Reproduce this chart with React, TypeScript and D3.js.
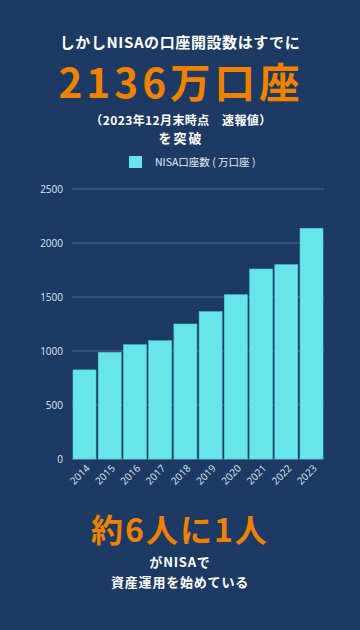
import React from "react";
import * as d3 from "d3";

const years = ["2014", "2015", "2016", "2017", "2018", "2019", "2020", "2021", "2022", "2023"];
const accounts = [825, 987, 1058, 1095, 1250, 1364, 1521, 1759, 1799, 2136];
const yTicks = [0, 500, 1000, 1500, 2000, 2500];

const W = 360;
const H = 630;
const BG = "#1c3a63";
const ORANGE = "#ef8200";
const BAR = "#68e5e8";
const FONT = "'Noto Sans CJK JP', 'Noto Sans', sans-serif";
const TICKFONT = "'Open Sans', 'Noto Sans', sans-serif";

export default function App() {
  const x = d3.scaleBand<string>().domain(years).range([72, 324]).paddingInner(0.09).paddingOuter(0.04);
  const y = d3.scaleLinear().domain([0, 2500]).range([459, 189]);

  return (
    <svg width={W} height={H} style={{ position: "absolute", left: 0, top: 0, display: "block" }}>
      <rect x={0} y={0} width={W} height={H} fill={BG} />
      <text x={180} y={48} textAnchor="middle" fill="#ffffff" fontFamily={FONT} fontWeight={700} fontSize={15} letterSpacing={0.6}>
        しかしNISAの口座開設数はすでに
      </text>
      <text x={181} y={98} textAnchor="middle" fill={ORANGE} fontFamily={FONT} fontWeight={700} fontSize={40.5} letterSpacing={4}>
        2136万口座
      </text>
      <text x={181} y={125} textAnchor="middle" fill="#ffffff" fontFamily={FONT} fontWeight={700} fontSize={12} letterSpacing={0.4}>
        （2023年12月末時点　速報値）
      </text>
      <text x={181} y={143} textAnchor="middle" fill="#ffffff" fontFamily={FONT} fontWeight={700} fontSize={13} letterSpacing={2}>
        を突破
      </text>
      <rect x={129} y={156} width={13} height={12} fill={BAR} />
      <text x={155} y={166} fill="#e6ecf4" fontFamily={FONT} fontSize={10.5}>
        NISA口座数 ( 万口座 )
      </text>

      {yTicks.map((t) => (
        <g key={t}>
          <line x1={72} x2={324} y1={y(t)} y2={y(t)} stroke="#4f6d92" strokeWidth={1} />
          <text x={63} y={y(t) + 3.5} textAnchor="end" fill="#dfe6ef" fontFamily={TICKFONT} fontSize={10}>
            {t}
          </text>
        </g>
      ))}

      {years.map((yr, i) => (
        <rect
          key={yr}
          x={x(yr)!}
          y={y(accounts[i])}
          width={x.bandwidth()}
          height={y(0) - y(accounts[i])}
          fill={BAR}
          stroke="#4fd3d8"
          strokeWidth={0.6}
        />
      ))}

      {years.map((yr) => {
        const cx = x(yr)! + x.bandwidth() / 2 + 6;
        const cy = 469;
        return (
          <text
            key={yr}
            x={cx}
            y={cy}
            textAnchor="end"
            fill="#dfe6ef"
            fontFamily={TICKFONT}
            fontSize={10}
            transform={`rotate(-45 ${cx} ${cy})`}
          >
            {yr}
          </text>
        );
      })}

      <text x={180} y={542} textAnchor="middle" fill={ORANGE} fontFamily={FONT} fontWeight={700} fontSize={32} letterSpacing={2}>
        約6人に1人
      </text>
      <text x={180} y={567} textAnchor="middle" fill="#ffffff" fontFamily={FONT} fontWeight={700} fontSize={13} letterSpacing={0.8}>
        がNISAで
      </text>
      <text x={180} y={587} textAnchor="middle" fill="#ffffff" fontFamily={FONT} fontWeight={700} fontSize={13} letterSpacing={0.8}>
        資産運用を始めている
      </text>
    </svg>
  );
}
